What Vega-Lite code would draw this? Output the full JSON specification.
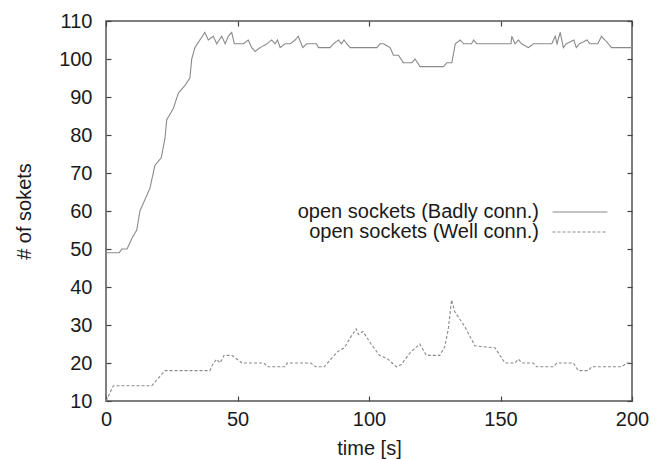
{
  "$schema": "https://vega.github.io/schema/vega-lite/v6.json",
  "width": 526,
  "height": 380,
  "autosize": {"type": "none"},
  "padding": {"left": 106, "top": 21, "right": 31, "bottom": 58},
  "background": "white",
  "config": {
    "font": "Liberation Sans",
    "view": {"stroke": "#555555", "strokeWidth": 1.5},
    "axis": {
      "grid": false,
      "domain": false,
      "tickColor": "#444444",
      "tickWidth": 1.2,
      "tickSize": -5,
      "labelFont": "Liberation Sans",
      "labelFontSize": 20,
      "labelColor": "#1a1a1a",
      "titleFont": "Liberation Sans",
      "titleFontSize": 20,
      "titleFontWeight": "normal",
      "titleColor": "#1a1a1a"
    },
    "legend": {
      "labelFont": "Liberation Sans",
      "labelFontSize": 20,
      "labelColor": "#1a1a1a",
      "labelLimit": 0
    }
  },
  "data": {
    "values": [
      {"s": "open sockets (Badly conn.)", "t": 0, "v": 49},
      {"s": "open sockets (Badly conn.)", "t": 5, "v": 49},
      {"s": "open sockets (Badly conn.)", "t": 6, "v": 50},
      {"s": "open sockets (Badly conn.)", "t": 8, "v": 50},
      {"s": "open sockets (Badly conn.)", "t": 10, "v": 53},
      {"s": "open sockets (Badly conn.)", "t": 11.7, "v": 55},
      {"s": "open sockets (Badly conn.)", "t": 12.9, "v": 60},
      {"s": "open sockets (Badly conn.)", "t": 14.8, "v": 63},
      {"s": "open sockets (Badly conn.)", "t": 16.7, "v": 66},
      {"s": "open sockets (Badly conn.)", "t": 18.6, "v": 72},
      {"s": "open sockets (Badly conn.)", "t": 21, "v": 74},
      {"s": "open sockets (Badly conn.)", "t": 22.4, "v": 79},
      {"s": "open sockets (Badly conn.)", "t": 23.1, "v": 84},
      {"s": "open sockets (Badly conn.)", "t": 25.6, "v": 87},
      {"s": "open sockets (Badly conn.)", "t": 27.5, "v": 91},
      {"s": "open sockets (Badly conn.)", "t": 30, "v": 93},
      {"s": "open sockets (Badly conn.)", "t": 31.9, "v": 95},
      {"s": "open sockets (Badly conn.)", "t": 32.6, "v": 100},
      {"s": "open sockets (Badly conn.)", "t": 33.8, "v": 103},
      {"s": "open sockets (Badly conn.)", "t": 35.7, "v": 105},
      {"s": "open sockets (Badly conn.)", "t": 37.6, "v": 107},
      {"s": "open sockets (Badly conn.)", "t": 38.9, "v": 105},
      {"s": "open sockets (Badly conn.)", "t": 40.8, "v": 106},
      {"s": "open sockets (Badly conn.)", "t": 42.1, "v": 104},
      {"s": "open sockets (Badly conn.)", "t": 44, "v": 106},
      {"s": "open sockets (Badly conn.)", "t": 45.3, "v": 104},
      {"s": "open sockets (Badly conn.)", "t": 46.5, "v": 106},
      {"s": "open sockets (Badly conn.)", "t": 47.8, "v": 107},
      {"s": "open sockets (Badly conn.)", "t": 48.8, "v": 104},
      {"s": "open sockets (Badly conn.)", "t": 50.3, "v": 104},
      {"s": "open sockets (Badly conn.)", "t": 52.2, "v": 104},
      {"s": "open sockets (Badly conn.)", "t": 54.1, "v": 105},
      {"s": "open sockets (Badly conn.)", "t": 55.4, "v": 103},
      {"s": "open sockets (Badly conn.)", "t": 56.7, "v": 102},
      {"s": "open sockets (Badly conn.)", "t": 58.6, "v": 103},
      {"s": "open sockets (Badly conn.)", "t": 61.2, "v": 104},
      {"s": "open sockets (Badly conn.)", "t": 63, "v": 105},
      {"s": "open sockets (Badly conn.)", "t": 64.3, "v": 104},
      {"s": "open sockets (Badly conn.)", "t": 65.2, "v": 105},
      {"s": "open sockets (Badly conn.)", "t": 66.2, "v": 103},
      {"s": "open sockets (Badly conn.)", "t": 68.1, "v": 104},
      {"s": "open sockets (Badly conn.)", "t": 70, "v": 104},
      {"s": "open sockets (Badly conn.)", "t": 71.9, "v": 105},
      {"s": "open sockets (Badly conn.)", "t": 73.1, "v": 106},
      {"s": "open sockets (Badly conn.)", "t": 74.8, "v": 103},
      {"s": "open sockets (Badly conn.)", "t": 76.3, "v": 104},
      {"s": "open sockets (Badly conn.)", "t": 80, "v": 104},
      {"s": "open sockets (Badly conn.)", "t": 80.8, "v": 103},
      {"s": "open sockets (Badly conn.)", "t": 85.2, "v": 103},
      {"s": "open sockets (Badly conn.)", "t": 86.5, "v": 104},
      {"s": "open sockets (Badly conn.)", "t": 88.4, "v": 105},
      {"s": "open sockets (Badly conn.)", "t": 89.5, "v": 104},
      {"s": "open sockets (Badly conn.)", "t": 90.5, "v": 105},
      {"s": "open sockets (Badly conn.)", "t": 91.6, "v": 104},
      {"s": "open sockets (Badly conn.)", "t": 92.8, "v": 103},
      {"s": "open sockets (Badly conn.)", "t": 103, "v": 103},
      {"s": "open sockets (Badly conn.)", "t": 104.2, "v": 104},
      {"s": "open sockets (Badly conn.)", "t": 105.5, "v": 104},
      {"s": "open sockets (Badly conn.)", "t": 108, "v": 103},
      {"s": "open sockets (Badly conn.)", "t": 109.3, "v": 101},
      {"s": "open sockets (Badly conn.)", "t": 111.2, "v": 101},
      {"s": "open sockets (Badly conn.)", "t": 113.1, "v": 99},
      {"s": "open sockets (Badly conn.)", "t": 116.3, "v": 99},
      {"s": "open sockets (Badly conn.)", "t": 117.5, "v": 100},
      {"s": "open sockets (Badly conn.)", "t": 119.4, "v": 98},
      {"s": "open sockets (Badly conn.)", "t": 128.3, "v": 98},
      {"s": "open sockets (Badly conn.)", "t": 129.6, "v": 99},
      {"s": "open sockets (Badly conn.)", "t": 131.5, "v": 99},
      {"s": "open sockets (Badly conn.)", "t": 132.8, "v": 104},
      {"s": "open sockets (Badly conn.)", "t": 134.7, "v": 105},
      {"s": "open sockets (Badly conn.)", "t": 136, "v": 104},
      {"s": "open sockets (Badly conn.)", "t": 139, "v": 104},
      {"s": "open sockets (Badly conn.)", "t": 139.8, "v": 105},
      {"s": "open sockets (Badly conn.)", "t": 141, "v": 104},
      {"s": "open sockets (Badly conn.)", "t": 154, "v": 104},
      {"s": "open sockets (Badly conn.)", "t": 154.3, "v": 106},
      {"s": "open sockets (Badly conn.)", "t": 155.5, "v": 104},
      {"s": "open sockets (Badly conn.)", "t": 156.8, "v": 105},
      {"s": "open sockets (Badly conn.)", "t": 158, "v": 104},
      {"s": "open sockets (Badly conn.)", "t": 160.6, "v": 103},
      {"s": "open sockets (Badly conn.)", "t": 162.5, "v": 104},
      {"s": "open sockets (Badly conn.)", "t": 169.5, "v": 104},
      {"s": "open sockets (Badly conn.)", "t": 170.8, "v": 106},
      {"s": "open sockets (Badly conn.)", "t": 171.5, "v": 104},
      {"s": "open sockets (Badly conn.)", "t": 172.7, "v": 107},
      {"s": "open sockets (Badly conn.)", "t": 173.9, "v": 103},
      {"s": "open sockets (Badly conn.)", "t": 175, "v": 104},
      {"s": "open sockets (Badly conn.)", "t": 177.9, "v": 105},
      {"s": "open sockets (Badly conn.)", "t": 178.8, "v": 103},
      {"s": "open sockets (Badly conn.)", "t": 180, "v": 104},
      {"s": "open sockets (Badly conn.)", "t": 182.9, "v": 105},
      {"s": "open sockets (Badly conn.)", "t": 184, "v": 104},
      {"s": "open sockets (Badly conn.)", "t": 187, "v": 104},
      {"s": "open sockets (Badly conn.)", "t": 188.4, "v": 106},
      {"s": "open sockets (Badly conn.)", "t": 191, "v": 104},
      {"s": "open sockets (Badly conn.)", "t": 192.2, "v": 103},
      {"s": "open sockets (Badly conn.)", "t": 200, "v": 103},
      {"s": "open sockets (Well conn.)", "t": 0, "v": 10},
      {"s": "open sockets (Well conn.)", "t": 2.8, "v": 14},
      {"s": "open sockets (Well conn.)", "t": 17.4, "v": 14},
      {"s": "open sockets (Well conn.)", "t": 18.6, "v": 15},
      {"s": "open sockets (Well conn.)", "t": 20.5, "v": 16.5},
      {"s": "open sockets (Well conn.)", "t": 22.4, "v": 18},
      {"s": "open sockets (Well conn.)", "t": 39.5, "v": 18},
      {"s": "open sockets (Well conn.)", "t": 40.8, "v": 20},
      {"s": "open sockets (Well conn.)", "t": 42.1, "v": 21},
      {"s": "open sockets (Well conn.)", "t": 43.4, "v": 20},
      {"s": "open sockets (Well conn.)", "t": 44.9, "v": 22},
      {"s": "open sockets (Well conn.)", "t": 47.9, "v": 22},
      {"s": "open sockets (Well conn.)", "t": 49.8, "v": 21},
      {"s": "open sockets (Well conn.)", "t": 51.7, "v": 20},
      {"s": "open sockets (Well conn.)", "t": 60, "v": 20},
      {"s": "open sockets (Well conn.)", "t": 61.3, "v": 19},
      {"s": "open sockets (Well conn.)", "t": 68.2, "v": 19},
      {"s": "open sockets (Well conn.)", "t": 68.9, "v": 20},
      {"s": "open sockets (Well conn.)", "t": 77.8, "v": 20},
      {"s": "open sockets (Well conn.)", "t": 79.7, "v": 19},
      {"s": "open sockets (Well conn.)", "t": 83, "v": 19},
      {"s": "open sockets (Well conn.)", "t": 85.5, "v": 21},
      {"s": "open sockets (Well conn.)", "t": 88.1, "v": 23},
      {"s": "open sockets (Well conn.)", "t": 90.6, "v": 24},
      {"s": "open sockets (Well conn.)", "t": 93.2, "v": 27},
      {"s": "open sockets (Well conn.)", "t": 95.1, "v": 29},
      {"s": "open sockets (Well conn.)", "t": 96, "v": 27.5},
      {"s": "open sockets (Well conn.)", "t": 97.7, "v": 28.3},
      {"s": "open sockets (Well conn.)", "t": 100.8, "v": 25},
      {"s": "open sockets (Well conn.)", "t": 104, "v": 22},
      {"s": "open sockets (Well conn.)", "t": 107.2, "v": 21},
      {"s": "open sockets (Well conn.)", "t": 110.4, "v": 19},
      {"s": "open sockets (Well conn.)", "t": 112.3, "v": 19.6},
      {"s": "open sockets (Well conn.)", "t": 115.5, "v": 22.6},
      {"s": "open sockets (Well conn.)", "t": 119.3, "v": 25},
      {"s": "open sockets (Well conn.)", "t": 121.8, "v": 22},
      {"s": "open sockets (Well conn.)", "t": 126.9, "v": 22},
      {"s": "open sockets (Well conn.)", "t": 128.8, "v": 24.3},
      {"s": "open sockets (Well conn.)", "t": 130.1, "v": 28.7},
      {"s": "open sockets (Well conn.)", "t": 131.4, "v": 36.6},
      {"s": "open sockets (Well conn.)", "t": 132.6, "v": 33.5},
      {"s": "open sockets (Well conn.)", "t": 136.4, "v": 29.6},
      {"s": "open sockets (Well conn.)", "t": 140.3, "v": 24.5},
      {"s": "open sockets (Well conn.)", "t": 147.9, "v": 24},
      {"s": "open sockets (Well conn.)", "t": 151.7, "v": 20},
      {"s": "open sockets (Well conn.)", "t": 155.5, "v": 20},
      {"s": "open sockets (Well conn.)", "t": 156.8, "v": 21},
      {"s": "open sockets (Well conn.)", "t": 158.1, "v": 20},
      {"s": "open sockets (Well conn.)", "t": 162.5, "v": 20},
      {"s": "open sockets (Well conn.)", "t": 163.8, "v": 19},
      {"s": "open sockets (Well conn.)", "t": 170.1, "v": 19},
      {"s": "open sockets (Well conn.)", "t": 171.4, "v": 20},
      {"s": "open sockets (Well conn.)", "t": 177.7, "v": 20},
      {"s": "open sockets (Well conn.)", "t": 179.6, "v": 18},
      {"s": "open sockets (Well conn.)", "t": 183.4, "v": 18},
      {"s": "open sockets (Well conn.)", "t": 184.7, "v": 19},
      {"s": "open sockets (Well conn.)", "t": 196.1, "v": 19},
      {"s": "open sockets (Well conn.)", "t": 198, "v": 20},
      {"s": "open sockets (Well conn.)", "t": 200, "v": 20}
    ]
  },
  "layer": [
    {
      "mark": {"type": "line", "color": "#8a8a8a", "strokeWidth": 1.1},
      "encoding": {
        "x": {
          "field": "t", "type": "quantitative",
          "scale": {"domain": [0, 200], "nice": false},
          "axis": {"title": "time [s]", "values": [0, 50, 100, 150, 200], "labelPadding": 13, "titlePadding": 9, "labelFlush": false}
        },
        "y": {
          "field": "v", "type": "quantitative",
          "scale": {"domain": [10, 110], "nice": false, "zero": false},
          "axis": {"title": "# of sokets", "values": [10, 20, 30, 40, 50, 60, 70, 80, 90, 100, 110], "labelPadding": 19, "titlePadding": 24, "labelFlush": false}
        },
        "strokeDash": {
          "field": "s", "type": "nominal",
          "scale": {"domain": ["open sockets (Badly conn.)", "open sockets (Well conn.)"], "range": [[1, 0], [3, 2]]},
          "legend": {
            "title": null,
            "orient": "none",
            "legendX": 464,
            "legendY": 181,
            "padding": 0,
            "symbolType": "M-5,0H5",
            "symbolSize": 121,
            "symbolStrokeColor": "#8a8a8a",
            "symbolStrokeWidth": 1.1,
            "symbolOffset": 0,
            "labelAlign": "right",
            "labelOffset": -51,
            "labelLimit": 0,
            "rowPadding": -6
          }
        }
      }
    },
    {
      "mark": {"type": "line", "opacity": 0},
      "encoding": {
        "x": {
          "field": "t", "type": "quantitative",
          "axis": {"orient": "top", "title": null, "labels": false, "values": [0, 50, 100, 150, 200]}
        },
        "y": {
          "field": "v", "type": "quantitative",
          "axis": {"orient": "right", "title": null, "labels": false, "values": [10, 20, 30, 40, 50, 60, 70, 80, 90, 100, 110]}
        },
        "detail": {"field": "s", "type": "nominal"}
      }
    }
  ],
  "resolve": {"axis": {"x": "independent", "y": "independent"}}
}
